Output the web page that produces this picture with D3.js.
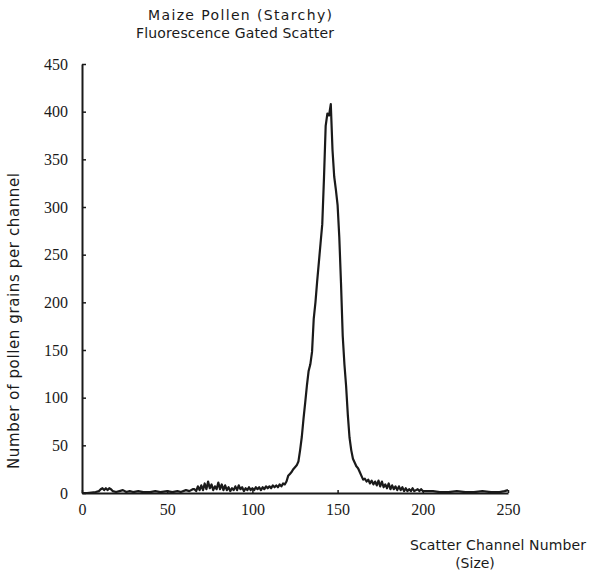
<!DOCTYPE html>
<html>
<head>
<meta charset="utf-8">
<script src="https://cdn.jsdelivr.net/npm/d3@7"></script>
<style>
  body { margin: 0; background: #fff; }
  text { fill: #1a1a1a; }
  .tick text { font-family: "Liberation Serif", serif; font-size: 16px; }
  .lbl { font-family: "DejaVu Sans", sans-serif; font-size: 14px; }
</style>
</head>
<body>
<div id="chart"></div>
<script>
// scatter channel (size) and pollen grain count per channel
var channels = [0, 3, 8, 10, 11, 12, 13, 14, 15, 16, 17, 18, 20, 22, 24, 26, 28, 30, 33, 36, 40, 43, 46, 50,
  53, 56, 58, 61, 63, 65, 66, 67, 68, 69, 70, 71, 72, 73, 74, 75, 76, 77, 78, 79, 80, 81, 82, 83, 84, 85,
  86, 87, 88, 89, 90, 91, 92, 93, 94, 95, 96, 97, 98, 99, 100, 101, 102, 103, 104, 105, 106, 107, 108,
  109, 110, 111, 112, 113, 114, 115, 116, 117, 118, 119, 120, 121, 122, 123, 124, 125, 126, 127, 128,
  129, 130, 131, 132, 133, 134, 135, 136, 137, 138, 139, 140, 141, 142, 143, 144, 145, 146, 147, 148,
  149, 150, 151, 152, 153, 154, 155, 156, 157, 158, 159, 160, 161, 162, 163, 164, 165, 166, 167, 168,
  169, 170, 171, 172, 173, 174, 175, 176, 177, 178, 179, 180, 181, 182, 183, 184, 185, 186, 187, 188,
  189, 190, 191, 192, 193, 194, 195, 196, 197, 198, 199, 200, 203, 206, 210, 215, 220, 225, 230, 235,
  240, 245, 248, 250];
var counts = [0, 0, 1, 2, 4, 5, 3, 5, 3, 5, 4, 2, 1, 2, 3, 1, 2, 1, 2, 1, 1, 2, 1, 2,
  1, 2, 1, 3, 2, 4, 4, 2, 7, 3, 8, 3, 10, 4, 12, 5, 9, 3, 7, 4, 11, 4, 9, 3, 8, 3,
  6, 2, 5, 3, 7, 3, 8, 4, 6, 2, 5, 3, 6, 3, 5, 3, 6, 4, 6, 3, 6, 4, 7,
  5, 7, 5, 8, 6, 8, 6, 9, 7, 10, 9, 12, 18, 20, 22, 25, 27, 29, 33, 45,
  59, 78, 95, 113, 128, 135, 148, 183, 200, 222, 242, 262, 282, 330, 385, 398, 396, 408, 360, 332,
  318, 302, 268, 220, 165, 135, 112, 82, 58, 45, 36, 32, 28, 26, 22, 18, 14, 15, 12, 14,
  10, 13, 9, 12, 8, 13, 7, 12, 6, 9, 5, 10, 4, 8, 4, 7, 3, 7, 3, 6,
  2, 5, 2, 4, 2, 5, 2, 3, 4, 2, 4, 2, 2, 2, 1, 1, 2, 1, 1, 2,
  1, 1, 2, 3];
var xTicks = [0, 50, 100, 150, 200, 250];
var yTicks = [0, 50, 100, 150, 200, 250, 300, 350, 400, 450];

var svgWidth = 592;
var svgHeight = 575;
var margin = { top: 64, right: 84, bottom: 82, left: 82 };
var width = svgWidth - margin.left - margin.right;
var height = svgHeight - margin.top - margin.bottom;

var svg = d3.select("#chart")
  .append("svg")
  .attr("width", svgWidth)
  .attr("height", svgHeight);

var chartGroup = svg.append("g")
  .attr("transform", `translate(${margin.left}, ${margin.top})`);

var xScale = d3.scaleLinear().domain([0, 250]).range([0, width]);
var yScale = d3.scaleLinear().domain([0, 450]).range([height, 0]);

var bottomAxis = d3.axisBottom(xScale).tickValues(xTicks).tickSizeInner(-3).tickSizeOuter(0).tickPadding(11);
var leftAxis = d3.axisLeft(yScale).tickValues(yTicks).tickSizeInner(-4).tickSizeOuter(0).tickPadding(14);

var xg = chartGroup.append("g")
  .attr("transform", `translate(0, ${height})`)
  .call(bottomAxis);
var yg = chartGroup.append("g").call(leftAxis);

[xg, yg].forEach(function(g) {
  g.select(".domain").attr("stroke", "#1a1a1a").attr("stroke-width", 2);
  g.selectAll(".tick line").attr("stroke", "#1a1a1a").attr("stroke-width", 1.5);
  g.selectAll(".tick text").attr("fill", "#1a1a1a");
});

var line = d3.line()
  .x((d, i) => xScale(channels[i]))
  .y(d => yScale(d));

chartGroup.append("path")
  .datum(counts)
  .attr("d", line)
  .attr("fill", "none")
  .attr("stroke", "#1a1a1a")
  .attr("stroke-width", 2.2)
  .attr("stroke-linejoin", "round");

// titles
svg.append("text").attr("class", "lbl")
  .attr("x", 240).attr("y", 20).attr("text-anchor", "middle")
  .attr("textLength", 184).attr("lengthAdjust", "spacing")
  .text("Maize Pollen (Starchy)");
svg.append("text").attr("class", "lbl")
  .attr("x", 235).attr("y", 38).attr("text-anchor", "middle")
  .attr("textLength", 198).attr("lengthAdjust", "spacing")
  .text("Fluorescence Gated Scatter");

// axis labels
svg.append("text").attr("class", "lbl")
  .attr("transform", "translate(19, 321) rotate(-90)")
  .attr("text-anchor", "middle")
  .style("font-size", "15px")
  .attr("textLength", 296).attr("lengthAdjust", "spacing")
  .text("Number of pollen grains per channel");
svg.append("text").attr("class", "lbl")
  .attr("x", 498).attr("y", 550).attr("text-anchor", "middle")
  .attr("textLength", 176).attr("lengthAdjust", "spacing")
  .text("Scatter Channel Number");
svg.append("text").attr("class", "lbl")
  .attr("x", 475).attr("y", 568).attr("text-anchor", "middle")
  .text("(Size)");
</script>
</body>
</html>
